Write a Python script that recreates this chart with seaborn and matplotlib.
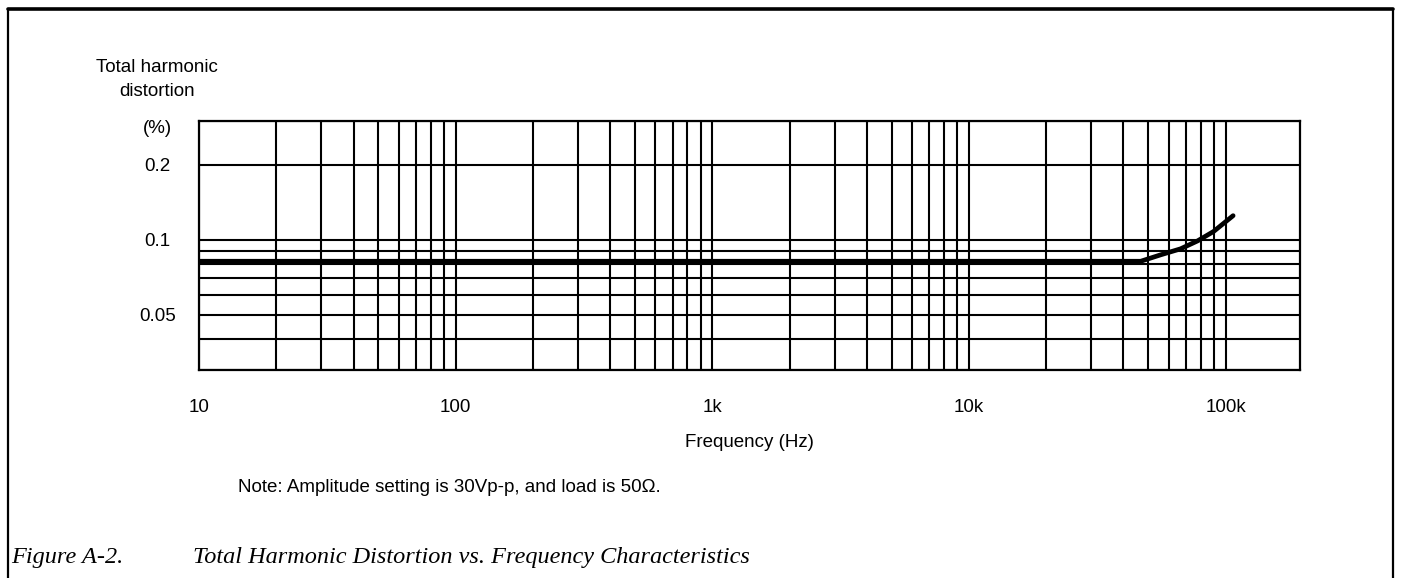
import numpy as np
import pandas as pd
import seaborn as sns
import matplotlib.pyplot as plt
from matplotlib.ticker import LogLocator, NullFormatter, FixedLocator, FixedFormatter

# THD curve
freq_hz = [10, 100, 1000, 10000, 46700, 55800, 66800, 77800, 89800, 107000]
thd_pct = [0.082, 0.082, 0.082, 0.082, 0.082, 0.087, 0.092, 0.099, 0.108, 0.125]

xtick_vals = [10, 100, 1000, 10000, 100000]
xtick_text = ['10', '100', '1k', '10k', '100k']
ytick_vals = [0.05, 0.1, 0.2]
ytick_text = ['0.05', '0.1', '0.2']

df = pd.DataFrame({'freq': freq_hz, 'thd': thd_pct})

sns.set_style('white')
plt.rcParams['font.family'] = ['Liberation Sans', 'DejaVu Sans']
plt.rcParams['text.color'] = 'black'
plt.rcParams['axes.labelcolor'] = 'black'
plt.rcParams['xtick.color'] = 'black'
plt.rcParams['ytick.color'] = 'black'

W, H = 1401, 578
fs = 13.5
fig = plt.figure(figsize=(W / 100, H / 100), dpi=100)
ax = fig.add_axes([199 / W, 1 - 370 / H, (1300 - 199) / W, (370 - 121) / H])

sns.lineplot(data=df, x='freq', y='thd', color='black', lw=3.4, ax=ax, zorder=5)

ax.set_xscale('log')
ax.set_yscale('log')
ax.set_xlim(10, 195000)
ax.set_ylim(0.03, 0.3)

ax.xaxis.set_major_locator(FixedLocator(xtick_vals))
ax.xaxis.set_major_formatter(FixedFormatter(xtick_text))
ax.xaxis.set_minor_locator(LogLocator(base=10, subs=np.arange(2, 10)))
ax.xaxis.set_minor_formatter(NullFormatter())
ax.yaxis.set_major_locator(FixedLocator(ytick_vals))
ax.yaxis.set_major_formatter(FixedFormatter(ytick_text))
ax.yaxis.set_minor_locator(LogLocator(base=10, subs=np.arange(2, 10)))
ax.yaxis.set_minor_formatter(NullFormatter())

ax.grid(which='both', color='black', lw=1.5)
for s in ax.spines.values():
    s.set_color('black')
    s.set_linewidth(1.6)
ax.tick_params(which='both', length=0, labelsize=fs)
ax.tick_params(axis='x', pad=21)
ax.tick_params(axis='y', pad=30)
for t in ax.get_yticklabels():
    t.set_ha('center')

ax.set_xlabel('Frequency (Hz)', fontsize=fs, labelpad=13)
ax.set_ylabel('')

fig.text(157 / W, 1 - 68 / H, 'Total harmonic', ha='center', va='center', fontsize=fs)
fig.text(157 / W, 1 - 92 / H, 'distortion', ha='center', va='center', fontsize=fs)
fig.text(157 / W, 1 - 128 / H, '(%)', ha='center', va='center', fontsize=fs)

fig.text(238 / W, 1 - 488 / H, 'Note: Amplitude setting is 30Vp-p, and load is 50\u03a9.',
         ha='left', va='center', fontsize=fs)
fig.text(11 / W, 1 - 557 / H, 'Figure A-2.', ha='left', va='center', fontsize=17.5,
         family='Liberation Serif', style='italic')
fig.text(193 / W, 1 - 557 / H, 'Total Harmonic Distortion vs. Frequency Characteristics',
         ha='left', va='center', fontsize=17.5, family='Liberation Serif', style='italic')

# page frame around the figure
fig.add_artist(plt.Line2D([8 / W, 8 / W], [0, 1 - 9 / H], color='black', lw=1.6))
fig.add_artist(plt.Line2D([1393 / W, 1393 / W], [0, 1 - 9 / H], color='black', lw=1.6))
fig.add_artist(plt.Line2D([8 / W, 1393 / W], [1 - 9 / H, 1 - 9 / H], color='black', lw=2.6))

fig.savefig('out.png', dpi=100)
